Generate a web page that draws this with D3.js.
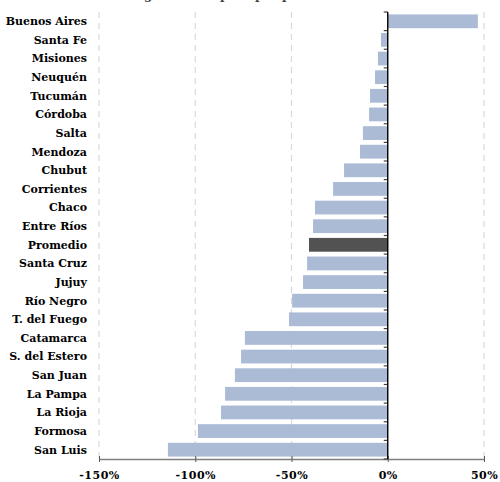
<!DOCTYPE html>
<html>
<head>
<meta charset="utf-8">
<script src="https://cdn.jsdelivr.net/npm/d3@7"></script>
<style>
  html, body { margin: 0; padding: 0; background: #ffffff; }
  svg { display: block; }
</style>
</head>
<body>
<div id="chart"></div>
<script>
// ---- data ----
const provinces = ["Buenos Aires","Santa Fe","Misiones","Neuquén","Tucumán","Córdoba","Salta","Mendoza","Chubut","Corrientes","Chaco","Entre Ríos","Promedio","Santa Cruz","Jujuy","Río Negro","T. del Fuego","Catamarca","S. del Estero","San Juan","La Pampa","La Rioja","Formosa","San Luis"];
const values = [46.8,-3.5,-5.1,-6.6,-9.2,-9.7,-12.9,-14.4,-22.7,-28.4,-37.8,-38.8,-40.9,-41.9,-44.0,-49.7,-51.3,-74.2,-76.2,-79.4,-84.5,-86.6,-98.6,-114.2];
const xTicks = [-150,-100,-50,0,50];
const highlight = "Promedio";
const titleText = "Variación real del gasto de capital por provincia";

const W = 500, H = 482;
const mLeft = 99, mRight = 484, mTop = 12, mBottom = 459;
const font = "'DejaVu Serif', serif";

const svg = d3.select("#chart").append("svg").attr("width", W).attr("height", H);

const x = d3.scaleLinear().domain([-150, 50]).range([mLeft, mRight]);
const y = d3.scaleBand().domain(provinces).range([mTop, mBottom]).paddingInner(0.26).paddingOuter(0.13);

// title (mostly cut off at top, as in the reference)
svg.append("text").attr("x", 183).attr("y", -1).attr("text-anchor", "middle")
  .attr("font-family", font).attr("font-weight", "bold").attr("font-size", 12)
  .attr("fill", "#404040").text(titleText);

// gridlines
svg.append("g").selectAll("line").data(xTicks.filter(d => d !== 0)).join("line")
  .attr("x1", d => x(d)).attr("x2", d => x(d))
  .attr("y1", mTop).attr("y2", mBottom)
  .attr("stroke", "#d9d9d9").attr("stroke-width", 1.2).attr("stroke-dasharray", "6,5");

// bars
svg.append("g").selectAll("rect").data(provinces).join("rect")
  .attr("x", (d, i) => x(Math.min(0, values[i])))
  .attr("width", (d, i) => Math.abs(x(values[i]) - x(0)))
  .attr("y", d => y(d))
  .attr("height", y.bandwidth())
  .attr("fill", d => d === highlight ? "#525252" : "#abbbd6");

// bottom axis
const xAxis = d3.axisBottom(x).tickValues(xTicks).tickFormat(d => d + "%").tickSize(4).tickSizeOuter(0);
const gx = svg.append("g").attr("transform", `translate(0,${mBottom})`).call(xAxis);
gx.select(".domain").attr("stroke", "#7f7f7f").attr("stroke-width", 1.6);
gx.selectAll(".tick line").attr("stroke", "#595959").attr("y1", -3).attr("y2", 3);
gx.selectAll(".tick text").attr("font-family", font).attr("font-weight", "bold")
  .attr("font-size", 11).attr("fill", "#000").attr("y", 12.5).attr("dy", "0.71em")
  .style("letter-spacing", "0.5px");

// zero axis with band-boundary ticks
const boundaries = provinces.map(p => y(p) - y.step() * y.paddingInner() / 2);
boundaries.push(mBottom);
svg.append("g").selectAll("line").data(boundaries).join("line")
  .attr("x1", x(0) - 4).attr("x2", x(0))
  .attr("y1", d => d).attr("y2", d => d)
  .attr("stroke", "#404040").attr("stroke-width", 1.2);
svg.append("line").attr("x1", x(0)).attr("x2", x(0)).attr("y1", mTop).attr("y2", mBottom)
  .attr("stroke", "#000").attr("stroke-width", 1.4);

// category labels
svg.append("g").selectAll("text").data(provinces).join("text")
  .attr("x", 87).attr("y", d => y(d) + y.bandwidth() / 2)
  .attr("dy", "0.35em").attr("text-anchor", "end")
  .attr("font-family", font).attr("font-weight", "bold").attr("font-size", 11)
  .attr("fill", "#000").text(d => d);
</script>
</body>
</html>
